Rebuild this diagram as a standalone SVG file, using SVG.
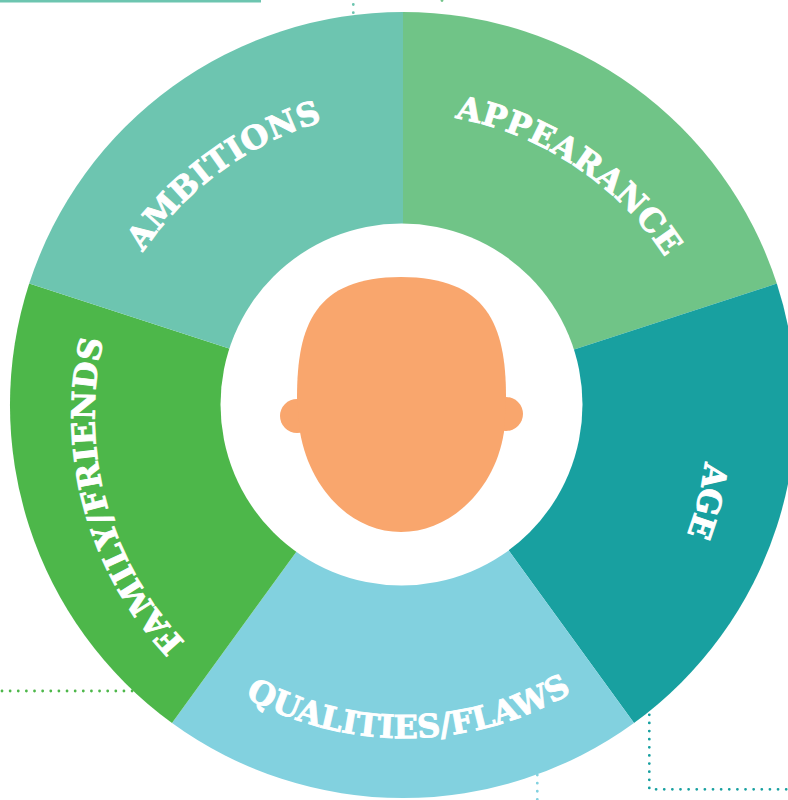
<svg xmlns="http://www.w3.org/2000/svg" width="788" height="800" viewBox="0 0 788 800">
<style>
.lbl{font-family:"DejaVu Serif","Liberation Serif",serif;font-weight:700;font-size:32px;fill:#fff;stroke:#fff;stroke-width:.9}
.dot{fill:none;stroke-width:2.8;stroke-linecap:round;stroke-dasharray:0 8.13}
</style>
<defs>
<path id="pApp" d="M455 118A319 319 0 0 1 670 265"/>
<path id="pAge" d="M705 462A310 310 0 0 1 686 537"/>
<path id="pQua" d="M245 697A330 330 0 0 0 573 692"/>
<path id="pFam" d="M185 642A330 330 0 0 1 107 326"/>
<path id="pAmb" d="M143 252A325 325 0 0 1 322 122"/>
</defs>
<rect width="788" height="800" fill="#fff"/>
<g id="connectors">
<rect x="0" y="0" width="261" height="2.5" fill="#6dc5b0"/>
<path class="dot" stroke="#6dc5b0" d="M353.3 4.5V13"/>
<path class="dot" stroke="#72c489" d="M442 .5V8.6"/>
<path class="dot" stroke="#4db74a" d="M2 691H134"/>
<path class="dot" stroke="#18a0a0" d="M649.3 714.8V789.3H788"/>
<path class="dot" stroke="#82d1df" d="M537.3 775V800"/>
</g>
<g id="appearance">
<path fill="#70c487" d="M403 405V12A393 393 0 0 1 776.8 283.6Z"/>
</g>
<g id="age">
<path fill="#18a0a0" d="M403 405L776.8 283.6A393 393 0 0 1 634 723Z"/>
</g>
<g id="qualities">
<path fill="#82d1df" d="M403 405L634 723A393 393 0 0 1 172 723Z"/>
</g>
<g id="family">
<path fill="#4db74a" d="M403 405L172 723A393 393 0 0 1 29.2 283.6Z"/>
</g>
<g id="ambitions">
<path fill="#6dc5b0" d="M403 405L29.2 283.6A393 393 0 0 1 403 12Z"/>
</g>
<circle cx="401.5" cy="404.5" r="181" fill="#fff"/>
<g id="head">
<circle cx="297" cy="416" r="17" fill="#f9a66d"/>
<circle cx="506" cy="414" r="17" fill="#f9a66d"/>
<path fill="#f9a66d" d="M297 398C297 325 315 277 401 277C487 277 506 325 506 397L504 432C495 490 450 532 401 532C352 532 310 490 300 432Z"/>
</g>
<g id="labels">
<text class="lbl"><textPath href="#pApp" textLength="259">APPEARANCE</textPath></text>
<text class="lbl"><textPath href="#pAge" textLength="75">AGE</textPath></text>
<text class="lbl"><textPath href="#pQua" textLength="342">QUALITIES/FLAWS</textPath></text>
<text class="lbl"><textPath href="#pFam" textLength="326">FAMILY/FRIENDS</textPath></text>
<text class="lbl"><textPath href="#pAmb" textLength="226">AMBITIONS</textPath></text>
</g>
</svg>
